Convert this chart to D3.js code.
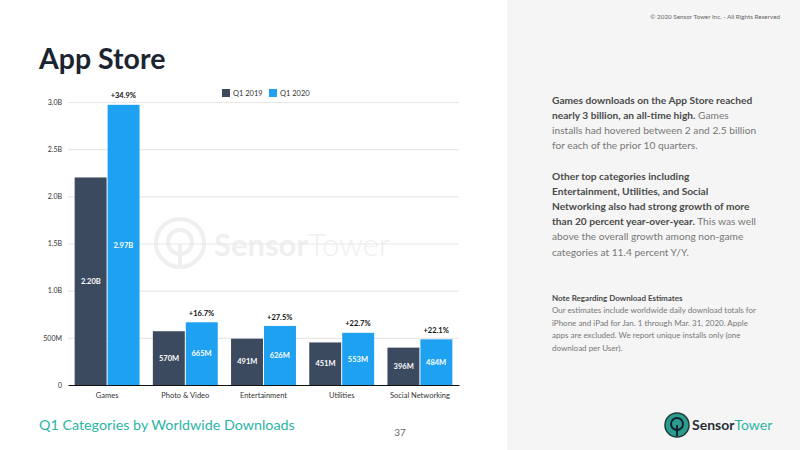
<!DOCTYPE html>
<html lang="en">
<head>
<meta charset="UTF-8">
<title>App Store</title>
<style>
  body { margin: 0; background: #fff; }
  svg { display: block; font-family: Lato, "Noto Sans", sans-serif; }
</style>
</head>
<body>
<script src="https://d3js.org/d3.v7.min.js"></script>
<script>
// downloads, in millions
const categories = ["Games", "Photo & Video", "Entertainment", "Utilities", "Social Networking"];
const q1_2019 = [2200, 570, 491, 451, 396];
const q1_2020 = [2970, 665, 626, 553, 484];
const labels2019 = ["2.20B", "570M", "491M", "451M", "396M"];
const labels2020 = ["2.97B", "665M", "626M", "553M", "484M"];
const growth = ["+34.9%", "+16.7%", "+27.5%", "+22.7%", "+22.1%"];
const tickValues = [0, 500, 1000, 1500, 2000, 2500, 3000];
const tickLabels = ["0", "500M", "1.0B", "1.5B", "2.0B", "2.5B", "3.0B"];
const seriesNames = ["Q1 2019", "Q1 2020"];

const w = 800, h = 450;
const dark = "#3c4a5f", blue = "#1ea1f1", teal = "#2bb5a4";

const svg = d3.select("body").append("svg")
    .attr("width", w)
    .attr("height", h);

// right side panel
svg.append("rect").attr("x", 507).attr("y", 0).attr("width", w - 507).attr("height", h).attr("fill", "#f5f5f5");

svg.append("text").attr("x", 39).attr("y", 69)
    .attr("font-size", 28.5).attr("font-weight", 700).attr("fill", "#1b2530")
    .text("App Store");

// scales
const x = d3.scaleBand().domain(categories).range([68, 459]).paddingInner(0.17).paddingOuter(0.085);
const y = d3.scaleLinear().domain([0, 3000]).range([385, 102]);
const bw = x.bandwidth() / 2;

// watermark
const wm = svg.append("g");
wm.append("circle").attr("cx", 180).attr("cy", 243).attr("r", 24)
    .attr("fill", "none").attr("stroke", "#efefef").attr("stroke-width", 4);
wm.append("circle").attr("cx", 180).attr("cy", 242).attr("r", 12)
    .attr("fill", "none").attr("stroke", "#efefef").attr("stroke-width", 4);
wm.append("line").attr("x1", 180).attr("x2", 180).attr("y1", 244).attr("y2", 268)
    .attr("stroke", "#efefef").attr("stroke-width", 4);
const wmt = wm.append("text").attr("x", 214).attr("y", 256).attr("font-size", 31).attr("fill", "#efefef");
wmt.append("tspan").attr("font-weight", 700).text("Sensor");
wmt.append("tspan").attr("font-weight", 300).text("Tower");

// grid
svg.append("g")
    .attr("transform", "translate(68,0)")
    .call(d3.axisLeft(y).tickValues(tickValues).tickSize(-391).tickFormat((d, i) => tickLabels[i]))
    .call(g => g.select(".domain").remove())
    .call(g => g.selectAll(".tick line").attr("stroke", "#e8e8e8").attr("stroke-width", 1.2))
    .call(g => g.selectAll(".tick text").attr("x", -6).attr("font-size", 7).attr("fill", "#333").attr("font-family", "Lato, sans-serif"));

// bars
const groups = svg.append("g").selectAll("g").data(categories).join("g")
    .attr("transform", d => `translate(${x(d)},0)`);

groups.append("rect")
    .attr("x", 0).attr("width", bw - 0.5)
    .attr("y", (d, i) => y(q1_2019[i]))
    .attr("height", (d, i) => y(0) - y(q1_2019[i]))
    .attr("fill", dark);
groups.append("rect")
    .attr("x", bw + 0.5).attr("width", bw - 0.5)
    .attr("y", (d, i) => y(q1_2020[i]))
    .attr("height", (d, i) => y(0) - y(q1_2020[i]))
    .attr("fill", blue);

groups.append("text")
    .attr("x", bw / 2).attr("y", (d, i) => (y(q1_2019[i]) + y(0)) / 2)
    .attr("dy", "0.35em").attr("text-anchor", "middle")
    .attr("font-size", 7.5).attr("font-weight", 700).attr("fill", "#fff")
    .text((d, i) => labels2019[i]);
groups.append("text")
    .attr("x", bw * 1.5).attr("y", (d, i) => (y(q1_2020[i]) + y(0)) / 2)
    .attr("dy", "0.35em").attr("text-anchor", "middle")
    .attr("font-size", 7.5).attr("font-weight", 700).attr("fill", "#fff")
    .text((d, i) => labels2020[i]);
groups.append("text")
    .attr("x", bw * 1.5).attr("y", (d, i) => y(q1_2020[i]) - 9)
    .attr("dy", "0.35em").attr("text-anchor", "middle")
    .attr("font-size", 7.5).attr("font-weight", 700).attr("fill", "#111")
    .text((d, i) => growth[i]);

// x axis
svg.append("g")
    .attr("transform", "translate(0,385)")
    .call(d3.axisBottom(x).tickSize(0).tickPadding(8))
    .call(g => g.select(".domain").attr("stroke", "#111").attr("stroke-width", 1.2))
    .call(g => g.selectAll(".tick text").attr("font-size", 7.5).attr("fill", "#333").attr("font-family", "Lato, sans-serif"));

// legend
const legend = svg.append("g").selectAll("g").data(seriesNames).join("g")
    .attr("transform", (d, i) => `translate(${222 + i * 47},89)`);
legend.append("rect").attr("width", 8).attr("height", 8).attr("fill", (d, i) => i ? blue : dark);
legend.append("text").attr("x", 11).attr("y", 4).attr("dy", "0.35em")
    .attr("font-size", 7.5).attr("fill", "#333").text(d => d);

// footer
svg.append("text").attr("x", 39).attr("y", 430)
    .attr("font-size", 14.3).attr("fill", teal).text("Q1 Categories by Worldwide Downloads");
svg.append("text").attr("x", 400).attr("y", 436).attr("text-anchor", "middle")
    .attr("font-size", 10).attr("fill", "#666").text("37");

// right panel text
svg.append("text").attr("x", 780).attr("y", 19).attr("text-anchor", "end")
    .attr("font-size", 6.3).attr("fill", "#666").text("© 2020 Sensor Tower Inc. - All Rights Reserved");

const para1 = [
    [["Games downloads on the App Store reached", 1]],
    [["nearly 3 billion, an all-time high.", 1], [" Games", 0]],
    [["installs had hovered between 2 and 2.5 billion", 0]],
    [["for each of the prior 10 quarters.", 0]]
];
const para2 = [
    [["Other top categories including", 1]],
    [["Entertainment, Utilities, and Social", 1]],
    [["Networking also had strong growth of more", 1]],
    [["than 20 percent year-over-year.", 1], [" This was well", 0]],
    [["above the overall growth among non-game", 0]],
    [["categories at 11.4 percent Y/Y.", 0]]
];
const note = [
    [["Note Regarding Download Estimates", 1]],
    [["Our estimates include worldwide daily download totals for", 0]],
    [["iPhone and iPad for Jan. 1 through Mar. 31, 2020. Apple", 0]],
    [["apps are excluded. We report unique installs only (one", 0]],
    [["download per User).", 0]]
];

function block(lines, y0, lh, fs) {
    lines.forEach((line, i) => {
        const t = svg.append("text").attr("x", 552).attr("y", y0 + i * lh)
            .attr("dy", "0.35em").attr("font-size", fs);
        line.forEach(([s, b]) => t.append("tspan")
            .attr("font-weight", b ? 700 : 400)
            .attr("fill", b ? "#4a4a4a" : "#777")
            .text(s));
    });
}
block(para1, 100, 15.2, 10.2);
block(para2, 176, 15.2, 10.2);
block(note, 298, 12.5, 8);

// logo
const logo = svg.append("g");
logo.append("circle").attr("cx", 677).attr("cy", 425).attr("r", 12).attr("fill", "#2a9d8f").attr("stroke", "#1f3b3a").attr("stroke-width", 1.5);
logo.append("circle").attr("cx", 677).attr("cy", 424).attr("r", 6).attr("fill", "none").attr("stroke", "#123").attr("stroke-width", 2);
logo.append("line").attr("x1", 677).attr("x2", 677).attr("y1", 425).attr("y2", 436).attr("stroke", "#123").attr("stroke-width", 2);
const lt = logo.append("text").attr("x", 692).attr("y", 430).attr("font-size", 14);
lt.append("tspan").attr("font-weight", 700).attr("fill", "#2a2f36").text("Sensor");
lt.append("tspan").attr("font-weight", 400).attr("fill", "#2bb5a4").text("Tower");
</script>
</body>
</html>
